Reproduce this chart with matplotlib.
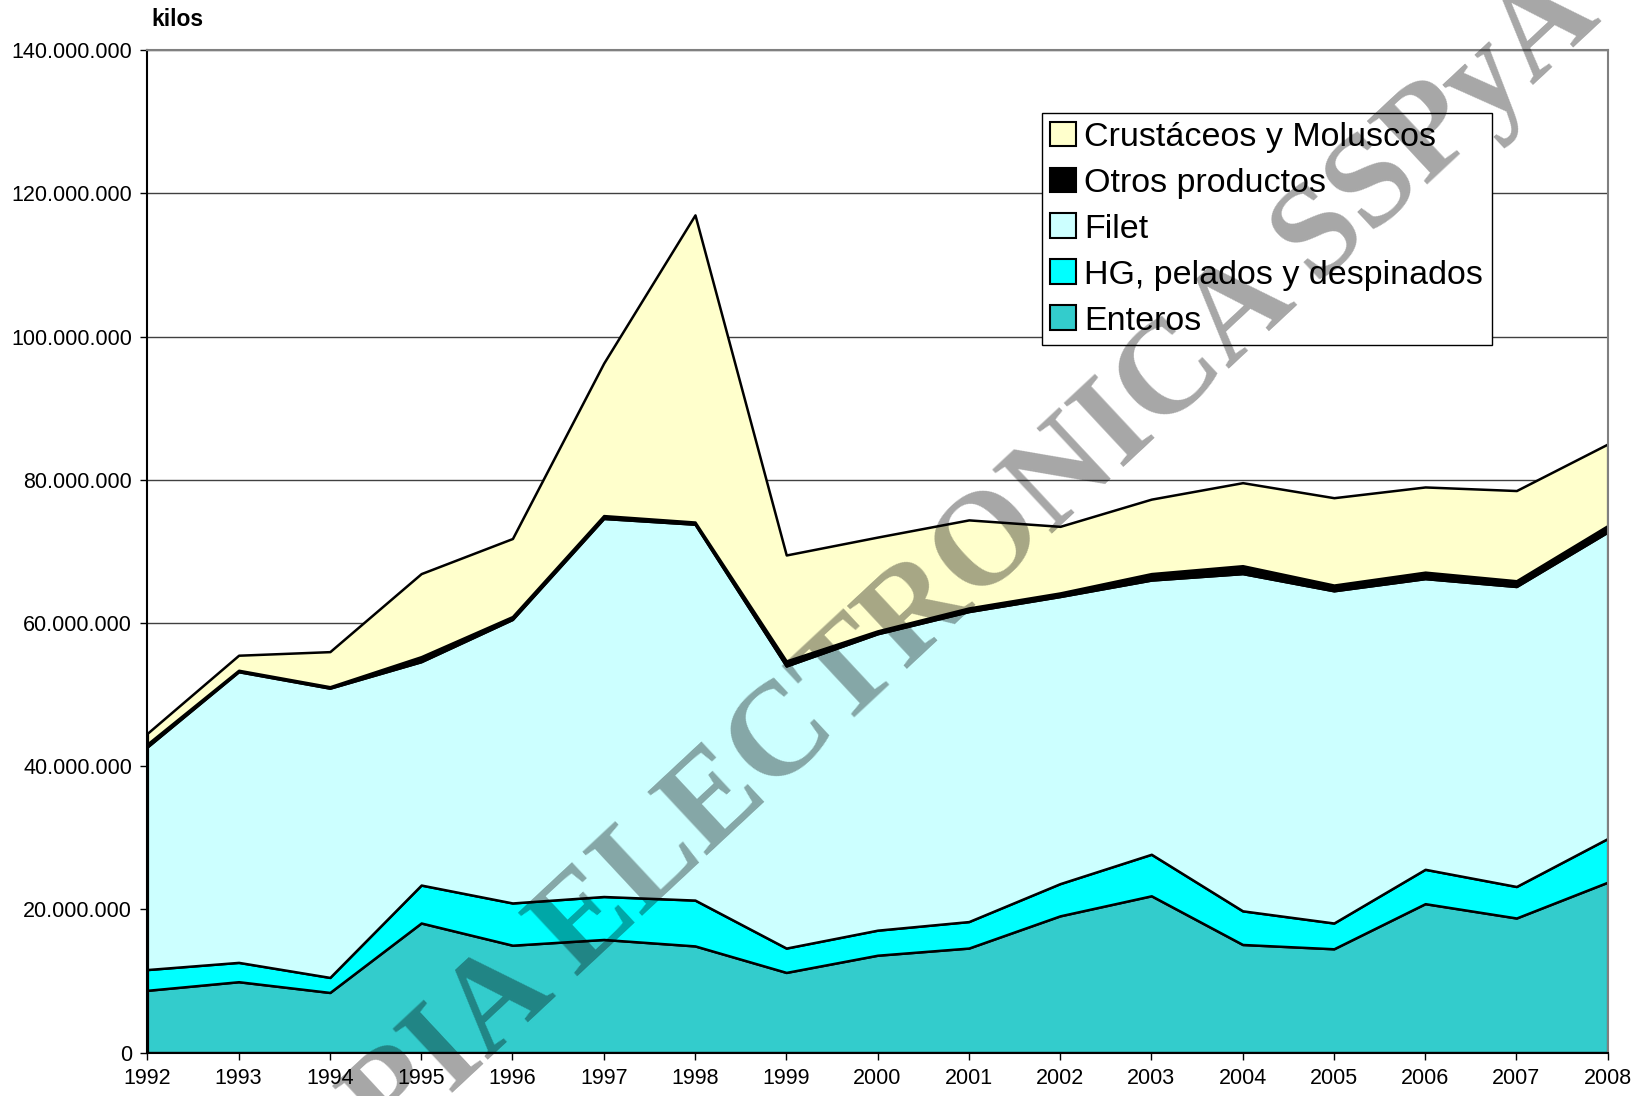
import matplotlib
matplotlib.use("Agg")
import matplotlib.pyplot as plt
from matplotlib.patches import Patch
from matplotlib.ticker import FuncFormatter, MultipleLocator

plt.rcParams['font.family'] = ['Liberation Sans', 'DejaVu Sans']

# datos en millones de kilos
years = list(range(1992, 2009))
enteros = [8.7, 9.9, 8.4, 18.1, 15.0, 15.8, 14.9, 11.2, 13.6, 14.6, 19.1, 21.9, 15.1, 14.5, 20.8, 18.8, 23.8]
hg = [2.9, 2.7, 2.1, 5.3, 5.9, 6.0, 6.4, 3.4, 3.5, 3.7, 4.5, 5.8, 4.7, 3.6, 4.8, 4.4, 6.1]
filet = [31.1, 40.6, 40.4, 31.2, 39.6, 52.8, 52.5, 39.4, 41.4, 43.3, 40.1, 38.3, 47.1, 46.4, 40.6, 41.9, 42.8]
otros = [0.4, 0.2, 0.2, 0.7, 0.4, 0.4, 0.3, 0.7, 0.4, 0.5, 0.5, 0.9, 1.1, 0.8, 0.9, 0.8, 0.9]
crustaceos = [1.5, 2.1, 4.9, 11.6, 10.9, 21.3, 42.9, 14.8, 13.1, 12.3, 9.3, 10.4, 11.6, 12.2, 11.9, 12.6, 11.4]

labels = ["Enteros", "HG, pelados y despinados", "Filet", "Otros productos", "Crustáceos y Moluscos"]
colors = ["#33CCCC", "#00FFFF", "#CCFFFF", "#000000", "#FFFFCC"]

series = [enteros, hg, filet, otros, crustaceos]
series = [[v * 1e6 for v in s] for s in series]

fig = plt.figure(figsize=(16.39, 10.96), dpi=100)
ax = fig.add_axes([0.0899, 0.0396, 0.891, 0.9146])

ax.stackplot(years, *series, colors=colors, edgecolor="black", linewidth=1.8)

ax.set_xlim(1992, 2008)
ax.set_ylim(0, 140e6)
ax.set_xticks(years)
ax.yaxis.set_major_locator(MultipleLocator(20e6))
ax.yaxis.set_major_formatter(FuncFormatter(lambda v, p: f"{int(v):,}".replace(",", ".")))
ax.grid(axis="y", color="#404040", linewidth=1)
ax.set_axisbelow(True)
ax.tick_params(labelsize=15.5, length=5, width=1, pad=6)

for s in ["left", "bottom"]:
    ax.spines[s].set_color("black")
    ax.spines[s].set_linewidth(1.5)
for s in ["top", "right"]:
    ax.spines[s].set_color("#808080")
    ax.spines[s].set_linewidth(1.5)

handles = [Patch(facecolor=c, edgecolor="black", linewidth=1.5) for c in colors][::-1]
leg = ax.legend(handles, labels[::-1], loc="upper left", bbox_to_anchor=(0.6126, 0.9373),
                fontsize=24.5, frameon=True, fancybox=False, edgecolor="black", framealpha=1,
                borderpad=0.25, labelspacing=0.43, handlelength=0.75, handleheight=0.75,
                handletextpad=0.25, borderaxespad=0)
leg.get_frame().set_linewidth(1)

fig.text(0.0921, 0.9818, "kilos", fontsize=16.5, fontweight="bold", va="center", ha="left")

# marca de agua
fig.text(0.5503, 0.4252, "COPIA ELECTRONICA SSPyA", family=["Liberation Serif", "DejaVu Serif"],
         fontsize=95.5, fontweight="bold", color="black", alpha=0.35, rotation=43,
         ha="center", va="center", rotation_mode="anchor", zorder=10)

fig.savefig("out.png", dpi=100)
